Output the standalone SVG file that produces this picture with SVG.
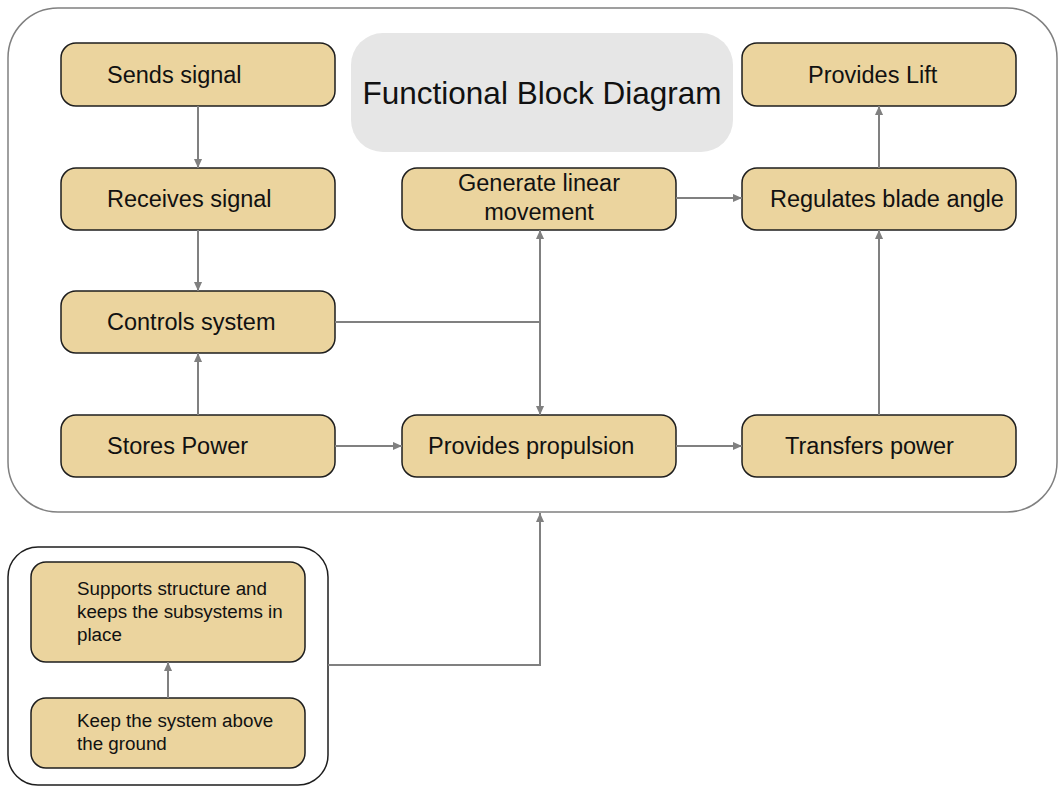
<svg xmlns="http://www.w3.org/2000/svg" width="1059" height="787" viewBox="0 0 1059 787">
  <style>
    .box { fill: #EBD49E; stroke: #1e1e1e; stroke-width: 1.5; }
    .lbl { font-family: "Liberation Sans", Arial, sans-serif; font-size: 23.5px; fill: #111; }
    .small { font-family: "Liberation Sans", Arial, sans-serif; font-size: 18.8px; fill: #111; }
    .wire { fill: none; stroke: #808080; stroke-width: 2; }
  </style>
  <defs>
    <marker id="arrow" viewBox="0 0 10 10" refX="10" refY="5" markerWidth="9" markerHeight="9" markerUnits="userSpaceOnUse" orient="auto">
      <path d="M0,0.5 L10,5 L0,9.5 Z" fill="#808080"/>
    </marker>
  </defs>
  <rect width="1059" height="787" fill="#ffffff"/>

  <!-- outer system boundary -->
  <g id="system-boundary">
    <rect x="8" y="8" width="1049" height="504" rx="50" ry="50" fill="none" stroke="#808080" stroke-width="1.5"/>
  </g>

  <!-- title -->
  <g id="title">
    <rect x="351" y="33" width="382" height="119" rx="32" ry="32" fill="#E6E6E6"/>
    <text x="542" y="104" text-anchor="middle" font-family="Liberation Sans, Arial, sans-serif" font-size="31.5" fill="#111">Functional Block Diagram</text>
  </g>

  <!-- structure group boundary -->
  <g id="structure-boundary">
    <rect x="8" y="547" width="320" height="238" rx="30" ry="30" fill="none" stroke="#1e1e1e" stroke-width="1.5"/>
  </g>

  <g id="sends-signal">
    <rect class="box" x="61" y="43" width="274" height="63" rx="15"/>
    <text class="lbl" x="107" y="83">Sends signal</text>
  </g>
  <g id="receives-signal">
    <rect class="box" x="61" y="168" width="274" height="62" rx="15"/>
    <text class="lbl" x="107" y="207">Receives signal</text>
  </g>
  <g id="controls-system">
    <rect class="box" x="61" y="291" width="274" height="62" rx="15"/>
    <text class="lbl" x="107" y="330">Controls system</text>
  </g>
  <g id="stores-power">
    <rect class="box" x="61" y="415" width="274" height="62" rx="15"/>
    <text class="lbl" x="107" y="454">Stores Power</text>
  </g>
  <g id="generate-linear-movement">
    <rect class="box" x="402" y="168" width="274" height="62" rx="15"/>
    <text class="lbl" x="539" y="191" text-anchor="middle">Generate linear</text>
    <text class="lbl" x="539" y="220" text-anchor="middle">movement</text>
  </g>
  <g id="provides-propulsion">
    <rect class="box" x="402" y="415" width="274" height="62" rx="15"/>
    <text class="lbl" x="428" y="454">Provides propulsion</text>
  </g>
  <g id="provides-lift">
    <rect class="box" x="742" y="43" width="274" height="63" rx="15"/>
    <text class="lbl" x="808" y="83">Provides Lift</text>
  </g>
  <g id="regulates-blade-angle">
    <rect class="box" x="742" y="168" width="274" height="62" rx="15"/>
    <text class="lbl" x="770" y="207">Regulates blade angle</text>
  </g>
  <g id="transfers-power">
    <rect class="box" x="742" y="415" width="274" height="62" rx="15"/>
    <text class="lbl" x="785" y="454">Transfers power</text>
  </g>
  <g id="supports-structure">
    <rect class="box" x="31" y="562" width="274" height="100" rx="15"/>
    <text class="small" x="77" y="595">Supports structure and</text>
    <text class="small" x="77" y="618">keeps the subsystems in</text>
    <text class="small" x="77" y="641">place</text>
  </g>
  <g id="keep-above-ground">
    <rect class="box" x="31" y="698" width="274" height="70" rx="15"/>
    <text class="small" x="77" y="727">Keep the system above</text>
    <text class="small" x="77" y="750">the ground</text>
  </g>

  <!-- connectors -->
  <g id="connectors">
    <line class="wire" x1="198" y1="106" x2="198" y2="168" marker-end="url(#arrow)"/>
    <line class="wire" x1="198" y1="230" x2="198" y2="291" marker-end="url(#arrow)"/>
    <line class="wire" x1="198" y1="415" x2="198" y2="353" marker-end="url(#arrow)"/>
    <line class="wire" x1="335" y1="446" x2="402" y2="446" marker-end="url(#arrow)"/>
    <line class="wire" x1="676" y1="446" x2="742" y2="446" marker-end="url(#arrow)"/>
    <line class="wire" x1="676" y1="198" x2="742" y2="198" marker-end="url(#arrow)"/>
    <line class="wire" x1="879" y1="168" x2="879" y2="106" marker-end="url(#arrow)"/>
    <line class="wire" x1="879" y1="415" x2="879" y2="230" marker-end="url(#arrow)"/>
    <line class="wire" x1="335" y1="322" x2="540" y2="322"/>
    <line class="wire" x1="540" y1="322" x2="540" y2="230" marker-end="url(#arrow)"/>
    <line class="wire" x1="540" y1="322" x2="540" y2="415" marker-end="url(#arrow)"/>
    <line class="wire" x1="168" y1="698" x2="168" y2="662" marker-end="url(#arrow)"/>
    <polyline class="wire" points="328,665 540,665 540,513" stroke-width="2.5" marker-end="url(#arrow)"/>
  </g>
</svg>
